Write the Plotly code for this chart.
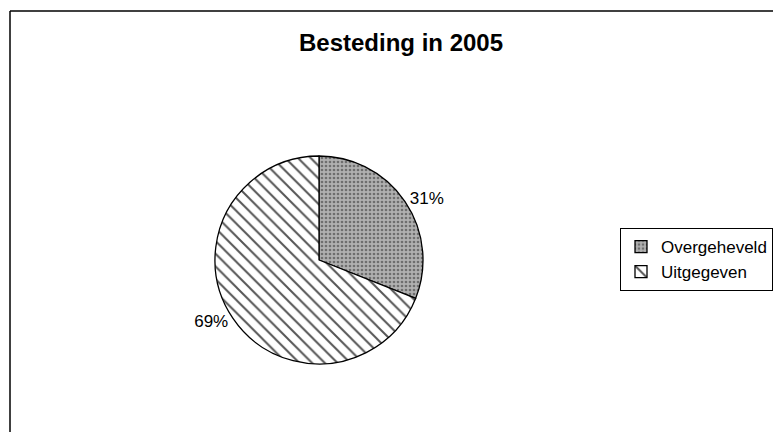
import plotly.graph_objects as go

labels = ["Overgeheveld", "Uitgegeven"]
values = [31, 69]
title_text = "Besteding in 2005"

W, H = 781, 432
OFF = 8  # page body margin offset
cx, cy, r = 319 - OFF, 260 - OFF, 104

fig = go.Figure(go.Pie(
    labels=labels,
    values=values,
    sort=False,
    direction="clockwise",
    rotation=0,
    textinfo="percent",
    textposition="outside",
    texttemplate="%{percent:.0%}",
    textfont=dict(family="Arial, Liberation Sans", size=17, color="black"),
    marker=dict(
        colors=["#9a9a9a", "white"],
        line=dict(color="black", width=1.3),
        pattern=dict(
            shape=[".", "\\"],
            fgcolor=["#6e6e6e", "#555555"],
            bgcolor=["#b0b0b0", "white"],
            size=[4, 9],
            solidity=[0.35, 0.22],
        ),
    ),
    domain=dict(x=[(cx - r) / W, (cx + r) / W], y=[1 - (cy + r) / H, 1 - (cy - r) / H]),
))

fig.update_layout(
    width=W, height=H,
    margin=dict(l=0, r=0, t=0, b=0),
    paper_bgcolor="white",
    plot_bgcolor="white",
    title=dict(text="<b>" + title_text + "</b>", x=(401 - OFF) / W, xanchor="center",
               y=1 - (43 - OFF) / H, yanchor="middle",
               font=dict(family="Arial, Liberation Sans", size=24, color="black")),
    legend=dict(x=(620 - OFF) / W, xanchor="left", y=1 - (228 - OFF) / H, yanchor="top",
                bordercolor="black", borderwidth=1, bgcolor="white",
                font=dict(family="Arial, Liberation Sans", size=17, color="black"),
                itemwidth=30, tracegroupgap=0),
    shapes=[
        dict(type="line", xref="paper", yref="paper", x0=(10 - OFF) / W, x1=1,
             y0=1 - (11 - OFF) / H, y1=1 - (11 - OFF) / H,
             line=dict(color="black", width=1.5)),
        dict(type="line", xref="paper", yref="paper", x0=(10 - OFF) / W, x1=(10 - OFF) / W,
             y0=0, y1=1 - (11 - OFF) / H,
             line=dict(color="black", width=1.5)),
    ],
)

fig.write_html("out.html")
